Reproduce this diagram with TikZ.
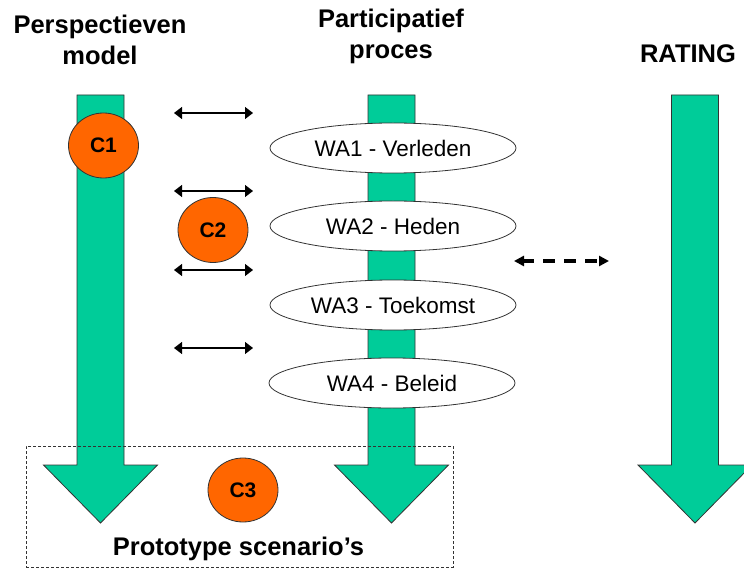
\documentclass[tikz,border=0pt]{standalone}
\usepackage{fontspec}
\setmainfont{Liberation Sans}
\usetikzlibrary{shapes.geometric,arrows.meta}
\definecolor{flowgreen}{HTML}{00CC99}
\definecolor{corange}{HTML}{FF6600}
\definecolor{edge}{HTML}{333333}

% one broad downward arrow: centre x, shaft top, head top, tip
\newcommand{\flowarrow}[4]{%
  \draw[bigarrow] (#1-23.5,#2) -- (#1+23.5,#2) -- (#1+23.5,#3) -- (#1+57,#3)
    -- (#1,#4) -- (#1-57,#3) -- (#1-23.5,#3) -- cycle;}

\begin{document}
\begin{tikzpicture}[x=1pt,y=-1pt,
  bigarrow/.style={fill=flowgreen,draw=edge,line width=0.8pt,line join=miter},
  title/.style={font=\bfseries\fontsize{25.5}{31}\selectfont,align=center,inner sep=0pt},
  wa/.style={ellipse,draw=edge,fill=white,line width=0.8pt,minimum width=246pt,
    minimum height=50pt,inner sep=0pt,font=\fontsize{22.5}{26}\selectfont},
  cnode/.style={ellipse,draw=edge,fill=corange,line width=0.8pt,minimum width=70pt,
    minimum height=65pt,inner sep=0pt,font=\bfseries\fontsize{21}{25}\selectfont},
  link/.style={line width=1.2pt,{Triangle[length=8pt,width=12pt]}-{Triangle[length=8pt,width=12pt]}},
  dlink/.style={line width=3.5pt,dash pattern=on 12pt off 9pt,dash phase=1pt,
    {Triangle[length=10pt,width=10pt]}-{Triangle[length=10pt,width=10pt]}},
  groupbox/.style={draw=edge,line width=0.7pt,dash pattern=on 3pt off 2pt}]

\useasboundingbox[fill=white] (0,0) rectangle (744,569);

% the three broad flows
\flowarrow{100.5}{95}{465}{523}
\flowarrow{391.5}{95}{465}{523}
\flowarrow{695}{95}{465}{523}

% column headings
\node[title,anchor=north] (tpm) at (100,14.4) {Perspectieven\\model};
\node[title,anchor=north] (tpp) at (391,8.4) {Participatief\\proces};
\node[title,anchor=north] (trt) at (688,44.7) {RATING};

% workshops
\node[wa] (wa1) at (393,148) {WA1 - Verleden};
\node[wa] (wa2) at (393,226) {WA2 - Heden};
\node[wa] (wa3) at (393,305) {WA3 - Toekomst};
\node[wa] (wa4) at (392,383) {WA4 - Beleid};

% exchanges between model and process
\coordinate (l1a) at (174,113); \coordinate (l1b) at (253,113);
\coordinate (l2a) at (174,191); \coordinate (l2b) at (253,191);
\coordinate (l3a) at (174,270); \coordinate (l3b) at (253,270);
\coordinate (l4a) at (174,348); \coordinate (l4b) at (253,348);
\draw[link] (l1a) -- (l1b);
\draw[link] (l2a) -- (l2b);
\draw[link] (l3a) -- (l3b);
\draw[link] (l4a) -- (l4b);

% exchange between process and rating
\coordinate (rta) at (514,261); \coordinate (rtb) at (609,261);
\draw[dlink] (rta) -- (rtb);

% result box
\node[groupbox,minimum width=427pt,minimum height=121pt,inner sep=0pt] (proto) at (239.5,506.5) {};
\node[font=\bfseries\fontsize{25.5}{30}\selectfont,anchor=base,inner sep=0pt] (protolbl) at (238.5,555) {Prototype scenario’s};

% checkpoints
\node[cnode] (c1) at (103.5,145.5) {C1};
\node[cnode] (c2) at (213,230) {C2};
\node[cnode,minimum height=64pt] (c3) at (243,490) {C3};
\end{tikzpicture}
\end{document}
